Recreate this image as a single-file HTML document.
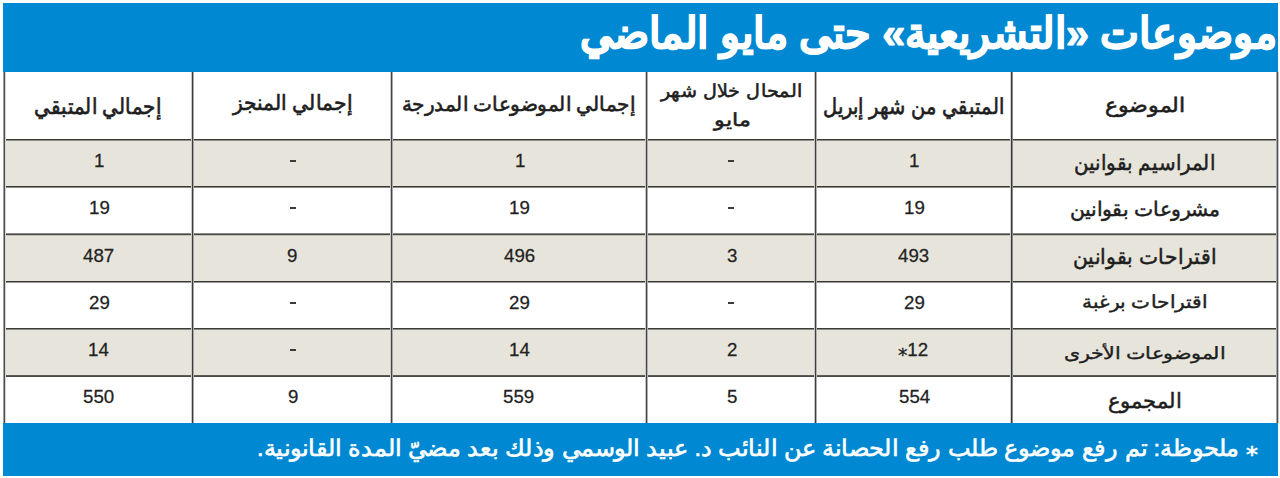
<!DOCTYPE html>
<html lang="ar">
<head>
<meta charset="utf-8">
<title>موضوعات التشريعية حتى مايو الماضي</title>
<style>
html,body{margin:0;padding:0;background:#fff;width:1280px;height:478px;overflow:hidden;}
body{position:relative;font-family:"Liberation Sans",sans-serif;}
.b{position:absolute;}
.t{position:absolute;white-space:nowrap;line-height:1;transform-origin:0 0;direction:rtl;unicode-bidi:isolate;}
</style>
</head>
<body>
<div class="b" style="left:3px;top:3px;width:1275px;height:69px;background:#0089d2"></div>
<div class="b" style="left:5px;top:141px;width:1271px;height:45px;background:#e7e5db"></div>
<div class="b" style="left:5px;top:236px;width:1271px;height:45px;background:#e7e5db"></div>
<div class="b" style="left:5px;top:330px;width:1271px;height:45px;background:#e7e5db"></div>
<div class="b" style="left:3px;top:423px;width:1275px;height:53px;background:#0089d2"></div>
<div class="b" style="left:4px;top:139px;width:1274px;height:1px;background:#3c3a36"></div>
<div class="b" style="left:4px;top:140px;width:1274px;height:1px;background:#909089"></div>
<div class="b" style="left:4px;top:186px;width:1274px;height:1px;background:#383832"></div>
<div class="b" style="left:4px;top:187px;width:1274px;height:1px;background:#8c8c86"></div>
<div class="b" style="left:4px;top:233px;width:1274px;height:1px;background:#8a8a84"></div>
<div class="b" style="left:4px;top:234px;width:1274px;height:1px;background:#4a4a44"></div>
<div class="b" style="left:4px;top:235px;width:1274px;height:1px;background:#c4c4bc"></div>
<div class="b" style="left:4px;top:281px;width:1274px;height:1px;background:#38382f"></div>
<div class="b" style="left:4px;top:282px;width:1274px;height:1px;background:#9a9a94"></div>
<div class="b" style="left:4px;top:328px;width:1274px;height:1px;background:#3c3c36"></div>
<div class="b" style="left:4px;top:329px;width:1274px;height:1px;background:#8a8a84"></div>
<div class="b" style="left:4px;top:375px;width:1274px;height:1px;background:#5c5c56"></div>
<div class="b" style="left:4px;top:376px;width:1274px;height:1px;background:#4a4a44"></div>
<div class="b" style="left:3px;top:72px;width:1px;height:351px;background:#a0a0a0"></div>
<div class="b" style="left:4px;top:72px;width:1px;height:351px;background:#4a4a4a"></div>
<div class="b" style="left:5px;top:72px;width:1px;height:351px;background:#d8d8d8"></div>
<div class="b" style="left:191px;top:72px;width:1px;height:351px;background:#c8c8c8"></div>
<div class="b" style="left:192px;top:72px;width:1px;height:351px;background:#3c3c3c"></div>
<div class="b" style="left:193px;top:72px;width:1px;height:351px;background:#a8a8a8"></div>
<div class="b" style="left:390px;top:72px;width:1px;height:351px;background:#c8c8c8"></div>
<div class="b" style="left:391px;top:72px;width:1px;height:351px;background:#444444"></div>
<div class="b" style="left:392px;top:72px;width:1px;height:351px;background:#a8a8a8"></div>
<div class="b" style="left:645px;top:72px;width:1px;height:351px;background:#c8c8c8"></div>
<div class="b" style="left:646px;top:72px;width:1px;height:351px;background:#444444"></div>
<div class="b" style="left:647px;top:72px;width:1px;height:351px;background:#b0b0b0"></div>
<div class="b" style="left:814px;top:72px;width:1px;height:351px;background:#c8c8c8"></div>
<div class="b" style="left:815px;top:72px;width:1px;height:351px;background:#3e3e3e"></div>
<div class="b" style="left:816px;top:72px;width:1px;height:351px;background:#b0b0b0"></div>
<div class="b" style="left:1010px;top:72px;width:1px;height:351px;background:#d0d0d0"></div>
<div class="b" style="left:1011px;top:72px;width:1px;height:351px;background:#363636"></div>
<div class="b" style="left:1012px;top:72px;width:1px;height:351px;background:#8a8a8a"></div>
<div class="b" style="left:1276px;top:72px;width:1px;height:351px;background:#a8a8a8"></div>
<div class="b" style="left:1277px;top:72px;width:1px;height:351px;background:#4e4e4e"></div>
<div class="b" style="left:1278px;top:72px;width:1px;height:351px;background:#c8c8c8"></div>
<div class="b" style="left:728px;top:160px;width:6px;height:2px;background:#3a3a3a"></div>
<div class="b" style="left:290px;top:160px;width:6px;height:2px;background:#3a3a3a"></div>
<div class="b" style="left:728px;top:207px;width:6px;height:2px;background:#3a3a3a"></div>
<div class="b" style="left:290px;top:207px;width:6px;height:2px;background:#3a3a3a"></div>
<div class="b" style="left:728px;top:302px;width:6px;height:2px;background:#3a3a3a"></div>
<div class="b" style="left:290px;top:302px;width:6px;height:2px;background:#3a3a3a"></div>
<div class="b" style="left:290px;top:349px;width:6px;height:2px;background:#3a3a3a"></div>
<div class="t" style="left:580.49px;top:11.57px;font-size:40px;color:#ffffff;font-weight:700;transform:scale(1.0304,1.0730);-webkit-text-stroke:1.1px #fff">موضوعات «التشريعية» حتى مايو الماضي</div>
<div class="t" style="left:256.50px;top:438.11px;font-size:22px;color:#ffffff;font-weight:400;transform:scale(1.0698,1.0267);-webkit-text-stroke:0.6px #fff">⁎ ملحوظة: تم رفع موضوع طلب رفع الحصانة عن النائب د. عبيد الوسمي وذلك بعد مضيّ المدة القانونية.</div>
<div class="t" style="left:1104.97px;top:94.50px;font-size:19px;color:#1e1e1e;font-weight:400;transform:scale(1.1608,1.0503);-webkit-text-stroke:0.55px #1e1e1e">الموضوع</div>
<div class="t" style="left:822.99px;top:95.32px;font-size:19px;color:#1e1e1e;font-weight:400;transform:scale(1.0413,1.1808);-webkit-text-stroke:0.55px #1e1e1e">المتبقي من شهر إبريل</div>
<div class="t" style="left:402.00px;top:94.47px;font-size:19px;color:#1e1e1e;font-weight:400;transform:scale(1.0469,1.0426);-webkit-text-stroke:0.55px #1e1e1e">إجمالي الموضوعات المدرجة</div>
<div class="t" style="left:232.99px;top:92.42px;font-size:19px;color:#1e1e1e;font-weight:400;transform:scale(1.0694,1.1100);-webkit-text-stroke:0.55px #1e1e1e">إجمالي المنجز</div>
<div class="t" style="left:33.99px;top:95.12px;font-size:19px;color:#1e1e1e;font-weight:400;transform:scale(1.0472,1.1651);-webkit-text-stroke:0.55px #1e1e1e">إجمالي المتبقي</div>
<div class="t" style="left:661.00px;top:80.62px;font-size:19px;color:#1e1e1e;font-weight:400;transform:scale(1.0325,0.9719);-webkit-text-stroke:0.55px #1e1e1e">المحال خلال شهر</div>
<div class="t" style="left:714.03px;top:109.62px;font-size:19px;color:#1e1e1e;font-weight:400;transform:scale(1.1945,0.9719);-webkit-text-stroke:0.55px #1e1e1e">مايو</div>
<div class="t" style="left:1073.99px;top:152.39px;font-size:19px;color:#1e1e1e;font-weight:400;transform:scale(1.0661,1.1277);-webkit-text-stroke:0.45px #1e1e1e">المراسيم بقوانين</div>
<div class="t" style="left:1069.98px;top:199.33px;font-size:19px;color:#1e1e1e;font-weight:400;transform:scale(1.0621,1.0417);-webkit-text-stroke:0.45px #1e1e1e">مشروعات بقوانين</div>
<div class="t" style="left:1072.99px;top:246.39px;font-size:19px;color:#1e1e1e;font-weight:400;transform:scale(1.0895,1.1277);-webkit-text-stroke:0.45px #1e1e1e">اقتراحات بقوانين</div>
<div class="t" style="left:1081.98px;top:292.98px;font-size:19px;color:#1e1e1e;font-weight:400;transform:scale(1.0661,0.9571);-webkit-text-stroke:0.45px #1e1e1e">اقتراحات برغبة</div>
<div class="t" style="left:1063.99px;top:345.46px;font-size:19px;color:#1e1e1e;font-weight:400;transform:scale(1.0644,0.8749);-webkit-text-stroke:0.45px #1e1e1e">الموضوعات الأخرى</div>
<div class="t" style="left:1107.97px;top:389.50px;font-size:19px;color:#1e1e1e;font-weight:400;transform:scale(1.1069,1.1017);-webkit-text-stroke:0.45px #1e1e1e">المجموع</div>
<div class="t" style="left:909.17px;top:151.11px;font-size:18px;color:#222222;font-weight:400;transform:scale(1.0378,1.0378);-webkit-text-stroke:0.25px #222">1</div>
<div class="t" style="left:514.71px;top:151.11px;font-size:18px;color:#222222;font-weight:400;transform:scale(1.0378,1.0378);-webkit-text-stroke:0.25px #222">1</div>
<div class="t" style="left:94.17px;top:151.11px;font-size:18px;color:#222222;font-weight:400;transform:scale(1.0378,1.0378);-webkit-text-stroke:0.25px #222">1</div>
<div class="t" style="left:903.61px;top:198.11px;font-size:18px;color:#222222;font-weight:400;transform:scale(1.0378,1.0378);-webkit-text-stroke:0.25px #222">19</div>
<div class="t" style="left:509.04px;top:198.11px;font-size:18px;color:#222222;font-weight:400;transform:scale(1.0378,1.0378);-webkit-text-stroke:0.25px #222">19</div>
<div class="t" style="left:88.61px;top:198.11px;font-size:18px;color:#222222;font-weight:400;transform:scale(1.0378,1.0378);-webkit-text-stroke:0.25px #222">19</div>
<div class="t" style="left:898.41px;top:246.11px;font-size:18px;color:#222222;font-weight:400;transform:scale(1.0378,1.0378);-webkit-text-stroke:0.25px #222">493</div>
<div class="t" style="left:726.71px;top:246.11px;font-size:18px;color:#222222;font-weight:400;transform:scale(1.0378,1.0378);-webkit-text-stroke:0.25px #222">3</div>
<div class="t" style="left:503.96px;top:246.11px;font-size:18px;color:#222222;font-weight:400;transform:scale(1.0378,1.0378);-webkit-text-stroke:0.25px #222">496</div>
<div class="t" style="left:287.36px;top:246.11px;font-size:18px;color:#222222;font-weight:400;transform:scale(1.0378,1.0378);-webkit-text-stroke:0.25px #222">9</div>
<div class="t" style="left:83.41px;top:246.11px;font-size:18px;color:#222222;font-weight:400;transform:scale(1.0378,1.0378);-webkit-text-stroke:0.25px #222">487</div>
<div class="t" style="left:903.61px;top:293.11px;font-size:18px;color:#222222;font-weight:400;transform:scale(1.0378,1.0378);-webkit-text-stroke:0.25px #222">29</div>
<div class="t" style="left:509.04px;top:293.11px;font-size:18px;color:#222222;font-weight:400;transform:scale(1.0378,1.0378);-webkit-text-stroke:0.25px #222">29</div>
<div class="t" style="left:88.61px;top:293.11px;font-size:18px;color:#222222;font-weight:400;transform:scale(1.0378,1.0378);-webkit-text-stroke:0.25px #222">29</div>
<div class="t" style="left:898.20px;top:340.11px;font-size:18px;color:#222222;font-weight:400;transform:scale(1.0378,1.0378);-webkit-text-stroke:0.25px #222">12⁎</div>
<div class="t" style="left:726.71px;top:340.11px;font-size:18px;color:#222222;font-weight:400;transform:scale(1.0378,1.0378);-webkit-text-stroke:0.25px #222">2</div>
<div class="t" style="left:508.56px;top:340.11px;font-size:18px;color:#222222;font-weight:400;transform:scale(1.0378,1.0378);-webkit-text-stroke:0.25px #222">14</div>
<div class="t" style="left:88.13px;top:340.11px;font-size:18px;color:#222222;font-weight:400;transform:scale(1.0378,1.0378);-webkit-text-stroke:0.25px #222">14</div>
<div class="t" style="left:898.77px;top:387.11px;font-size:18px;color:#222222;font-weight:400;transform:scale(1.0378,1.0378);-webkit-text-stroke:0.25px #222">554</div>
<div class="t" style="left:726.71px;top:387.11px;font-size:18px;color:#222222;font-weight:400;transform:scale(1.0378,1.0378);-webkit-text-stroke:0.25px #222">5</div>
<div class="t" style="left:503.44px;top:387.11px;font-size:18px;color:#222222;font-weight:400;transform:scale(1.0378,1.0378);-webkit-text-stroke:0.25px #222">559</div>
<div class="t" style="left:287.71px;top:387.11px;font-size:18px;color:#222222;font-weight:400;transform:scale(1.0378,1.0378);-webkit-text-stroke:0.25px #222">9</div>
<div class="t" style="left:83.34px;top:387.11px;font-size:18px;color:#222222;font-weight:400;transform:scale(1.0378,1.0378);-webkit-text-stroke:0.25px #222">550</div>
</body>
</html>
